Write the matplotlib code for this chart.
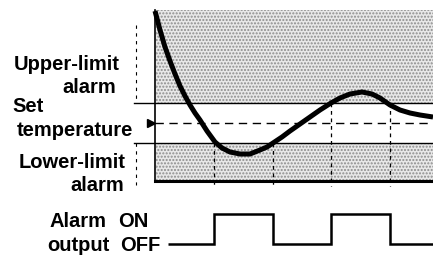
import matplotlib
matplotlib.use("Agg")
import matplotlib.pyplot as plt

plt.rcParams['font.family'] = ['Liberation Sans', 'DejaVu Sans']
plt.rcParams['hatch.linewidth'] = 1.0

# temperature curve (time in s, temperature in deg C)
time_s = [0, 5, 10, 15, 20, 25, 30, 35, 40, 45, 52, 60, 67, 75, 85, 95, 105, 112,
          118, 127, 135, 145, 155, 165, 176, 185, 195, 207, 217, 225, 235, 245,
          255, 265, 278]
temp_c = [128.0, 123.25, 119.0, 115.5, 112.25, 109.25, 106.75, 104.5, 102.5,
          100.75, 98.0, 95.25, 93.75, 92.75, 92.25, 92.25, 93.25, 94.0, 95.0,
          96.5, 98.0, 99.75, 101.5, 103.25, 105.0, 106.25, 107.25, 107.75,
          107.25, 106.25, 104.5, 103.25, 102.5, 102.0, 101.5]

set_temp = 100.0
upper_limit = 105.0
lower_limit = 95.0
temp_top = 128.25
temp_bottom = 85.5
t_end = 278

# alarm output
alarm_edges = [13, 59, 118, 176, 235, 278]
alarm_state = [0, 1, 0, 1, 0]

fig = plt.figure(figsize=(4.33, 2.56), dpi=100)
H = 256.0
ax = fig.add_axes([0, 1 - 195 / H, 1, 195 / H])
ax.set_xlim(-155, t_end)
ax.set_ylim(82, 130.75)
ax.axis('off')

shade = dict(facecolor='#e8e8e8', edgecolor='#8c8c8c', hatch='.....', linewidth=0)
ax.fill_between([1, t_end], upper_limit, temp_top, **shade)
ax.fill_between([1, t_end], temp_bottom, lower_limit, **shade)

# limit lines with left brackets
ax.plot([-21, t_end], [upper_limit, upper_limit], color='black', lw=1.0)
ax.plot([-21, t_end], [lower_limit, lower_limit], color='black', lw=1.0)
ax.plot([-19, -19], [124.5, upper_limit], color='black', lw=0.8, ls=(0, (3, 4)))
ax.plot([-19, -19], [lower_limit, 84.5], color='black', lw=0.8, ls=(0, (3, 4)))

# set temperature
ax.plot([0, t_end], [set_temp, set_temp], color='black', lw=1.0, ls=(0, (6, 4)))
ax.plot([-4], [set_temp], marker='>', color='black', markersize=6)

# axis frame
ax.plot([0, 0], [temp_top, temp_bottom], color='black', lw=1.2)
ax.plot([0, t_end], [temp_bottom, temp_bottom], color='black', lw=2.2)

# crossing markers
for i, t in enumerate(alarm_edges[1:-1]):
    top = lower_limit if i < 2 else upper_limit
    ax.plot([t, t], [top, 84.3], color='black', lw=0.9, ls=(0, (3, 3)))

ax.plot(time_s, temp_c, color='black', lw=3.6, solid_capstyle='butt')

# alarm output panel
ax2 = fig.add_axes([0, 0, 1, 61 / H])
ax2.set_xlim(-155, t_end)
ax2.set_ylim(-0.4, 1.633)
ax2.axis('off')
ax2.stairs(alarm_state, alarm_edges, color='black', lw=1.8, baseline=None)

fs = 14.5
def label(x, y, s):
    fig.text(x / 433.0, 1 - y / H, s, fontsize=fs, fontweight='bold',
             ha='left', va='baseline')

label(14, 70, 'Upper-limit')
label(62, 93, 'alarm')
label(12, 112, 'Set')
label(17, 136, 'temperature')
label(19, 168, 'Lower-limit')
label(70, 191, 'alarm')
label(50, 227, 'Alarm')
label(118, 227, 'ON')
label(47, 251, 'output')
label(120, 251, 'OFF')

fig.savefig('out.png', dpi=100)
